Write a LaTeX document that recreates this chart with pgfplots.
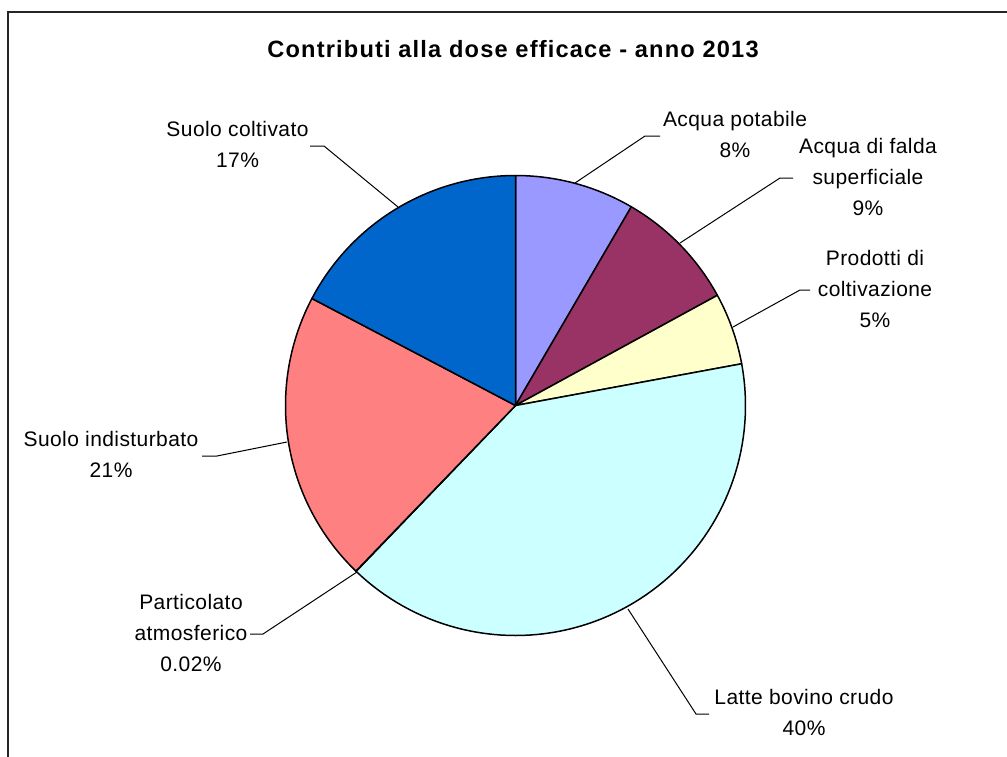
\documentclass[border=0pt]{standalone}
\usepackage{pgfplots}
\pgfplotsset{compat=1.18}
\usepackage{fontspec}
\setmainfont{Liberation Sans}
\definecolor{cA}{HTML}{9999FF}
\definecolor{cB}{HTML}{993366}
\definecolor{cC}{HTML}{FFFFCC}
\definecolor{cD}{HTML}{CCFFFF}
\definecolor{cE}{HTML}{660066}
\definecolor{cF}{HTML}{FF8080}
\definecolor{cG}{HTML}{0066CC}
% shares (%) clockwise from 12 o'clock
\def\vA{8.4}  % Acqua potabile
\def\vB{8.65} % Acqua di falda superficiale
\def\vC{5.05} % Prodotti di coltivazione
\def\vD{40.1} % Latte bovino crudo
\def\vE{0.02} % Particolato atmosferico
\def\vF{20.5} % Suolo indisturbato
\def\vG{17.3} % Suolo coltivato
\pgfmathsetmacro\tot{\vA+\vB+\vC+\vD+\vE+\vF+\vG}
\pgfmathsetmacro\aA{90-360*\vA/\tot}
\pgfmathsetmacro\aB{\aA-360*\vB/\tot}
\pgfmathsetmacro\aC{\aB-360*\vC/\tot}
\pgfmathsetmacro\aD{\aC-360*\vD/\tot}
\pgfmathsetmacro\aE{\aD-360*\vE/\tot}
\pgfmathsetmacro\aF{\aE-360*\vF/\tot}
\pgfmathsetmacro\aG{\aF-360*\vG/\tot}
\newcommand\slice[3]{\addplot[draw=black, line width=0.75pt, line join=round, fill=#3, domain=#1:#2, samples=80, variable=\t] ({515.5+230*cos(\t)},{405.5-230*sin(\t)}) -- (515.5,405.5) -- cycle;}
\newcommand\lbl{\fontsize{10.5}{15.5}\selectfont\addfontfeatures{LetterSpace=2}}
\begin{document}
\begin{tikzpicture}
\useasboundingbox (0,0) rectangle (503.5pt,378pt);
\begin{axis}[x=0.5pt, y=0.5pt, xmin=0, xmax=1007, ymin=0, ymax=756, y dir=reverse,
  hide axis, clip=false, at={(0,0)}, anchor=south west]
\draw[line width=1pt, black!85] (8,12) rectangle (1015,765);
\slice{\aA}{90}{cA}
\slice{\aB}{\aA}{cB}
\slice{\aC}{\aB}{cC}
\slice{\aD}{\aC}{cD}
\slice{\aE}{\aD}{cE}
\slice{\aF}{\aE}{cF}
\slice{\aG}{\aF}{cG}
% leader lines
\draw[line width=0.5pt] (575,183) -- (645,136) -- (660,136);
\draw[line width=0.5pt] (680,243) -- (780,178) -- (793,178);
\draw[line width=0.5pt] (733,327) -- (800,290) -- (810,290);
\draw[line width=0.5pt] (628,609) -- (696,714) -- (709,714);
\draw[line width=0.5pt] (357,572) -- (263,634) -- (250,634);
\draw[line width=0.5pt] (287,442) -- (217,456) -- (202,456);
\draw[line width=0.5pt] (398,207) -- (324,146) -- (310,146);
% labels
\node[align=center, font=\lbl] at (735,134.5) {Acqua potabile\\8\%};
\node[align=center, font=\lbl] at (868,177) {Acqua di falda\\superficiale\\9\%};
\node[align=center, font=\lbl] at (875,289) {Prodotti di\\coltivazione\\5\%};
\node[align=center, font=\lbl] at (804,712) {Latte bovino crudo\\40\%};
\node[align=center, font=\lbl] at (191,633) {Particolato\\atmosferico\\0.02\%};
\node[align=center, font=\lbl] at (111,454.5) {Suolo indisturbato\\21\%};
\node[align=center, font=\lbl] at (237.5,144.5) {Suolo coltivato\\17\%};
% title
\node[font={\fontsize{11.8}{13}\selectfont\bfseries\addfontfeatures{LetterSpace=5}}] at (513,49.5) {Contributi alla dose efficace - anno 2013};
\end{axis}
\end{tikzpicture}
\end{document}
